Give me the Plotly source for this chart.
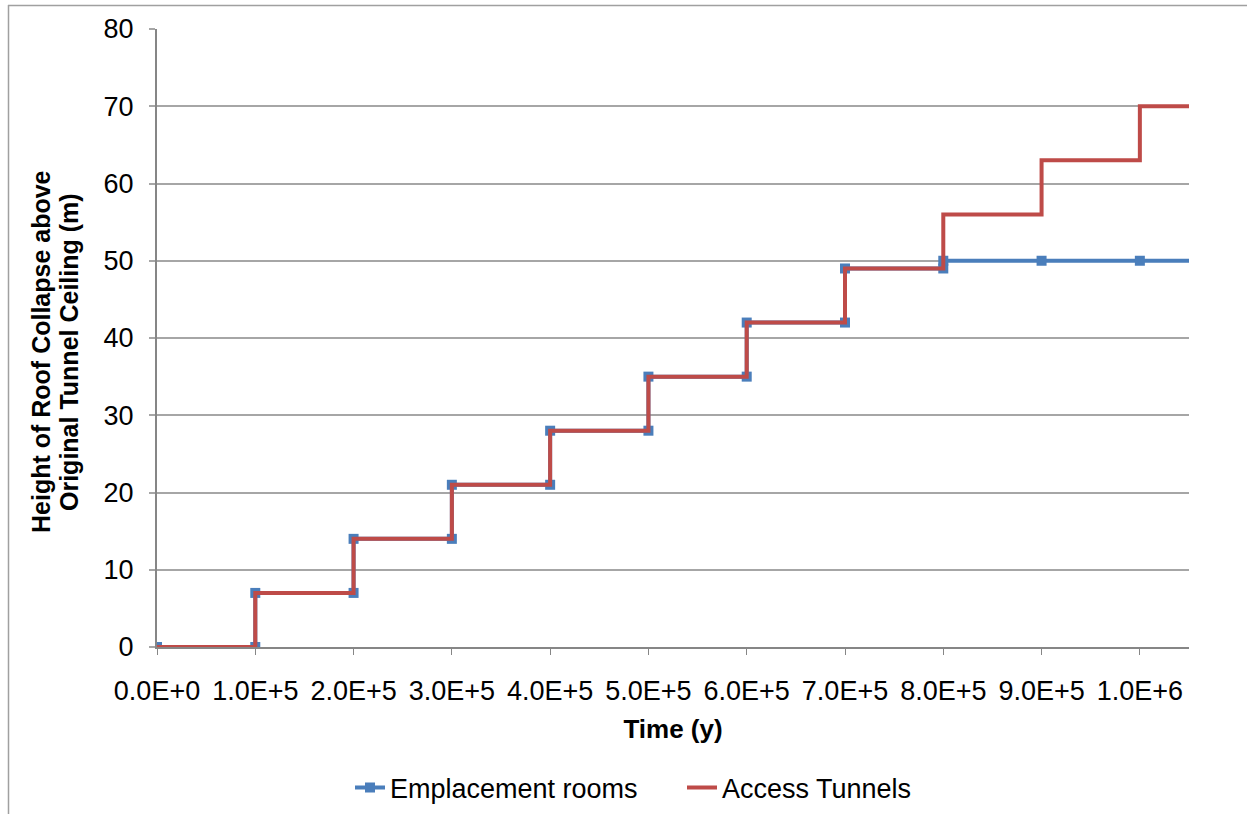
import plotly.graph_objects as go

# Step points (time in years, collapse height in m)
emplacement_t = [0, 1e5, 1e5, 2e5, 2e5, 3e5, 3e5, 4e5, 4e5, 5e5, 5e5, 6e5, 6e5, 7e5, 7e5, 8e5, 8e5, 9e5, 1e6, 1.1e6]
emplacement_h = [0, 0, 7, 7, 14, 14, 21, 21, 28, 28, 35, 35, 42, 42, 49, 49, 50, 50, 50, 50]

access_t = [0, 1e5, 1e5, 2e5, 2e5, 3e5, 3e5, 4e5, 4e5, 5e5, 5e5, 6e5, 6e5, 7e5, 7e5, 8e5, 8e5, 9e5, 9e5, 1e6, 1e6, 1.1e6]
access_h = [0, 0, 7, 7, 14, 14, 21, 21, 28, 28, 35, 35, 42, 42, 49, 49, 56, 56, 63, 63, 70, 70]

x_ticks = [0, 1e5, 2e5, 3e5, 4e5, 5e5, 6e5, 7e5, 8e5, 9e5, 1e6]
x_labels = ["0.0E+0", "1.0E+5", "2.0E+5", "3.0E+5", "4.0E+5", "5.0E+5",
            "6.0E+5", "7.0E+5", "8.0E+5", "9.0E+5", "1.0E+6"]

y_title_lines = ["Height of Roof Collapse above", "Original Tunnel Ceiling (m)"]

BLUE = "#4a7ebb"
RED = "#be4b48"
FONT = "Liberation Sans, Arial, sans-serif"
X_MAX = 1.05e6

fig = go.Figure()
fig.add_trace(go.Scatter(
    x=emplacement_t, y=emplacement_h, name="Emplacement rooms",
    mode="lines+markers",
    line=dict(color=BLUE, width=4),
    marker=dict(symbol="square", size=10, color=BLUE),
))
fig.add_trace(go.Scatter(
    x=access_t, y=access_h, name="Access Tunnels",
    mode="lines",
    line=dict(color=RED, width=4),
))

W, H = 1247, 814
L, R, T, B = 157, 58, 29, 167
pw, ph = W - L - R, H - T - B

def px_x(p):
    return (p - L) / pw

def px_y(p):
    return (H - B - p) / ph

# rotated two-line y-axis title
annotations = []
for line_text, cx in zip(y_title_lines, [41, 69]):
    annotations.append(dict(
        text="<b>%s</b>" % line_text, textangle=-90,
        xref="paper", yref="paper", x=px_x(cx), y=px_y(352),
        xanchor="center", yanchor="middle", showarrow=False,
        font=dict(family=FONT, size=25, color="black"),
    ))

fig.update_layout(
    width=W, height=H,
    margin=dict(l=L, r=R, t=T, b=B, autoexpand=False),
    paper_bgcolor="white", plot_bgcolor="white",
    font=dict(family=FONT, size=27, color="black"),
    showlegend=True,
    legend=dict(orientation="h", x=px_x(350), xanchor="left", y=px_y(788), yanchor="middle",
                font=dict(size=27), itemwidth=30, tracegroupgap=0,
                entrywidth=287, entrywidthmode="pixels"),
    xaxis=dict(
        range=[0, X_MAX], tickvals=x_ticks, ticktext=x_labels,
        showgrid=False, zeroline=False, automargin=False,
        showline=True, linecolor="#868686", linewidth=2,
        ticks="outside", ticklen=6, tickcolor="#868686", tickwidth=1,
        tickfont=dict(size=27), ticklabelstandoff=13,
        title=dict(text="<b>Time (y)</b>", font=dict(size=26), standoff=14),
    ),
    yaxis=dict(
        range=[0, 80], tickvals=list(range(0, 81, 10)),
        showgrid=True, gridcolor="#a6a6a6", gridwidth=1.5, zeroline=False, automargin=False,
        showline=True, linecolor="#868686", linewidth=2,
        ticks="outside", ticklen=6, tickcolor="#a6a6a6", tickwidth=1.5,
        tickfont=dict(size=27), ticklabelstandoff=10,
    ),
    annotations=annotations,
    shapes=[
        dict(type="line", xref="paper", yref="paper", x0=px_x(8), x1=px_x(W + 5),
             y0=px_y(5.5), y1=px_y(5.5), line=dict(color="#a0a0a0", width=1.5)),
        dict(type="line", xref="paper", yref="paper", x0=px_x(8.5), x1=px_x(8.5),
             y0=px_y(5), y1=px_y(H + 5), line=dict(color="#a0a0a0", width=1.5)),
    ],
)

fig.write_html("out.html")
